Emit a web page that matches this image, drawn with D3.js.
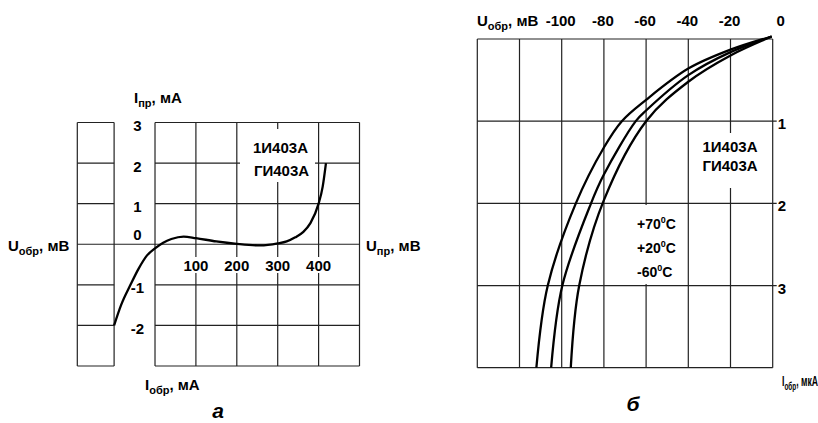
<!DOCTYPE html>
<html>
<head>
<meta charset="utf-8">
<script src="https://cdnjs.cloudflare.com/ajax/libs/d3/7.8.5/d3.min.js"></script>
<style>
body { margin: 0; background: #fff; }
svg text { font-family: "Liberation Sans", Arial, sans-serif; font-weight: bold; fill: #000; }
.grid { stroke: #222; stroke-width: 1.2; }
.curve { fill: none; stroke: #000; stroke-width: 2.3; }
</style>
</head>
<body>
<svg id="main" width="818" height="423"></svg>
<script>
// panel a - direct branch, U in mV, I in mA
var fwdU = [-100, -83, -60, -40, -20, 0, 20, 40, 70, 100, 150, 200, 257, 300, 322, 343, 362, 380, 400, 410, 418];
var fwdI = [-2, -1.5, -1, -0.6, -0.28, -0.1, 0.04, 0.13, 0.19, 0.15, 0.07, 0.01, -0.03, 0.02, 0.07, 0.17, 0.3, 0.52, 1.0, 1.42, 2.0];
var aGridX = [-190, -100, 0, 100, 200, 300, 400, 500];
var aGridY = [3, 2, 1, 0, -1, -2, -3];
var aTicksX = [100, 200, 300, 400];
var aTicksY = [3, 2, 1, 0, -1, -2];

// panel b - reverse branch, U in mV, I in uA, three temperatures
var revU70 = [-0.5, -20, -40, -60, -71.5, -80, -93.3, -106.6, -112];
var revI70 = [-0.03, 0.13, 0.36, 0.74, 1.0, 1.32, 2.0, 3.0, 4.0];
var revU20 = [-0.5, -20, -40, -60, -64.9, -80, -86.1, -99.7, -105];
var revI20 = [-0.03, 0.16, 0.44, 0.87, 1.0, 1.65, 2.0, 3.0, 4.0];
var revUm60 = [-0.5, -20, -40, -60, -80, -91.7, -95.7];
var revIm60 = [-0.03, 0.2, 0.52, 1.0, 1.96, 3.0, 4.0];
var bGridX = [-140, -120, -100, -80, -60, -40, -20, 0];
var bGridY = [0, 1, 2, 3, 4];
var bTicksX = [-100, -80, -60, -40, -20, 0];
var bTicksY = [1, 2, 3];
var temps = ["+70", "+20", "-60"];

var svg = d3.select("svg#main");

// text with a subscript part, e.g. U обр, мВ
function subLabel(g, x, y, main, sub, rest, size, subSize) {
    var t = g.append("text").attr("x", x).attr("y", y).style("font-size", size + "px");
    t.append("tspan").text(main);
    t.append("tspan").attr("dy", 4).style("font-size", subSize + "px").text(sub);
    t.append("tspan").attr("dy", -4).text(rest);
    return t;
}

function whiteBox(g, x, y, w, h) {
    g.append("rect").attr("x", x).attr("y", y).attr("width", w).attr("height", h).style("fill", "#fff");
}

/* ---------------- panel a ---------------- */
var xa = d3.scaleLinear().domain([-190, 500]).range([77.3, 359.5]);
var ya = d3.scaleLinear().domain([-3, 3]).range([366, 122.5]);
var ga = svg.append("g");

ga.selectAll("line.vx").data(aGridX).enter().append("line")
    .attr("class", "grid")
    .attr("x1", function(d) { return xa(d); }).attr("x2", function(d) { return xa(d); })
    .attr("y1", ya(3)).attr("y2", ya(-3));

// left block; only the zero line crosses the label gap
ga.selectAll("line.hl").data(aGridY).enter().append("line")
    .attr("class", "grid")
    .attr("x1", xa(-190))
    .attr("x2", function(d) { return d === 0 ? xa(500) : xa(-100); })
    .attr("y1", function(d) { return ya(d); }).attr("y2", function(d) { return ya(d); });

ga.selectAll("line.hr").data(aGridY.filter(function(d) { return d !== 0; })).enter().append("line")
    .attr("class", "grid")
    .attr("x1", xa(0)).attr("x2", xa(500))
    .attr("y1", function(d) { return ya(d); }).attr("y2", function(d) { return ya(d); });

whiteBox(ga, 240, 129, 75, 53);
aTicksX.forEach(function(d) { whiteBox(ga, xa(d) - 14, 257, 28, 16); });

var lineA = d3.line()
    .x(function(d) { return xa(d[0]); })
    .y(function(d) { return ya(d[1]); })
    .curve(d3.curveMonotoneX);

ga.append("path").datum(d3.zip(fwdU, fwdI)).attr("class", "curve").attr("d", lineA);

ga.selectAll("text.tx").data(aTicksX).enter().append("text")
    .attr("x", function(d) { return xa(d); }).attr("y", 270.5)
    .attr("text-anchor", "middle").style("font-size", "15px")
    .text(function(d) { return d; });

ga.selectAll("text.ty").data(aTicksY).enter().append("text")
    .attr("x", 137.5)
    .attr("y", function(d) { return d === 0 ? ya(d) - 4 : ya(d) + 8.5; })
    .attr("text-anchor", "middle").style("font-size", "15px")
    .text(function(d) { return d; });

ga.append("text").attr("x", 280.5).attr("y", 152.5).attr("text-anchor", "middle").style("font-size", "15px").text("1И403А");
ga.append("text").attr("x", 281.5).attr("y", 175.5).attr("text-anchor", "middle").style("font-size", "15px").text("ГИ403А");

subLabel(ga, 134, 103, "I", "пр", ", мА", 15, 11);
subLabel(ga, 8, 251, "U", "обр", ", мВ", 15, 11);
subLabel(ga, 366, 251, "U", "пр", ", мВ", 15, 11);
subLabel(ga, 145, 390, "I", "обр", ", мА", 15, 11);

ga.append("text").attr("x", 218).attr("y", 418).attr("text-anchor", "middle")
    .style("font-size", "21px").style("font-style", "italic").text("а");

/* ---------------- panel b ---------------- */
var xb = d3.scaleLinear().domain([-140, 0]).range([477.3, 772.7]);
var yb = d3.scaleLinear().domain([0, 4]).range([39, 367.7]);
var gb = svg.append("g");

gb.selectAll("line.vx").data(bGridX).enter().append("line")
    .attr("class", "grid")
    .attr("x1", function(d) { return xb(d); }).attr("x2", function(d) { return xb(d); })
    .attr("y1", yb(0)).attr("y2", yb(4));

gb.selectAll("line.hy").data(bGridY).enter().append("line")
    .attr("class", "grid")
    .attr("x1", xb(-140))
    .attr("x2", function(d) { return (d === 0 || d === 4) ? xb(0) : xb(0) + 4; })
    .attr("y1", function(d) { return yb(d); }).attr("y2", function(d) { return yb(d); });

whiteBox(gb, 702, 133, 56, 55);
whiteBox(gb, 632, 205, 46, 79);

var lineB = d3.line()
    .x(function(d) { return xb(d[0]); })
    .y(function(d) { return yb(d[1]); })
    .curve(d3.curveCatmullRom.alpha(0.5));

[d3.zip(revU70, revI70), d3.zip(revU20, revI20), d3.zip(revUm60, revIm60)].forEach(function(c) {
    gb.append("path").datum(c).attr("class", "curve").attr("d", lineB);
});

gb.selectAll("text.tx").data(bTicksX).enter().append("text")
    .attr("x", function(d) { return d === 0 ? xb(d) + 8 : xb(d) - 1; }).attr("y", 26)
    .attr("text-anchor", "middle").style("font-size", "15px")
    .text(function(d) { return d; });

gb.selectAll("text.ty").data(bTicksY).enter().append("text")
    .attr("x", 782).attr("y", function(d) { return yb(d) + 8; })
    .attr("text-anchor", "middle").style("font-size", "15px")
    .text(function(d) { return d; });

gb.append("text").attr("x", 730).attr("y", 152).attr("text-anchor", "middle").style("font-size", "15px").text("1И403А");
gb.append("text").attr("x", 730).attr("y", 171).attr("text-anchor", "middle").style("font-size", "15px").text("ГИ403А");

temps.forEach(function(t, i) {
    var tx = gb.append("text").attr("x", 637).attr("y", 228.5 + i * 24).style("font-size", "14px");
    tx.append("tspan").text(t);
    tx.append("tspan").attr("dy", -6).style("font-size", "9px").text("0");
    tx.append("tspan").attr("dy", 6).text("C");
});

subLabel(gb, 477, 26, "U", "обр", ", мВ", 15, 11);

// bottom right label is squeezed in the original to fit the edge
subLabel(gb, 0, 0, "I", "обр", ", мкА", 15, 11)
    .attr("transform", "translate(782,386) scale(0.58,1)");

gb.append("text").attr("x", 633).attr("y", 411).attr("text-anchor", "middle")
    .style("font-size", "21px").style("font-style", "italic").text("б");
</script>
</body>
</html>
